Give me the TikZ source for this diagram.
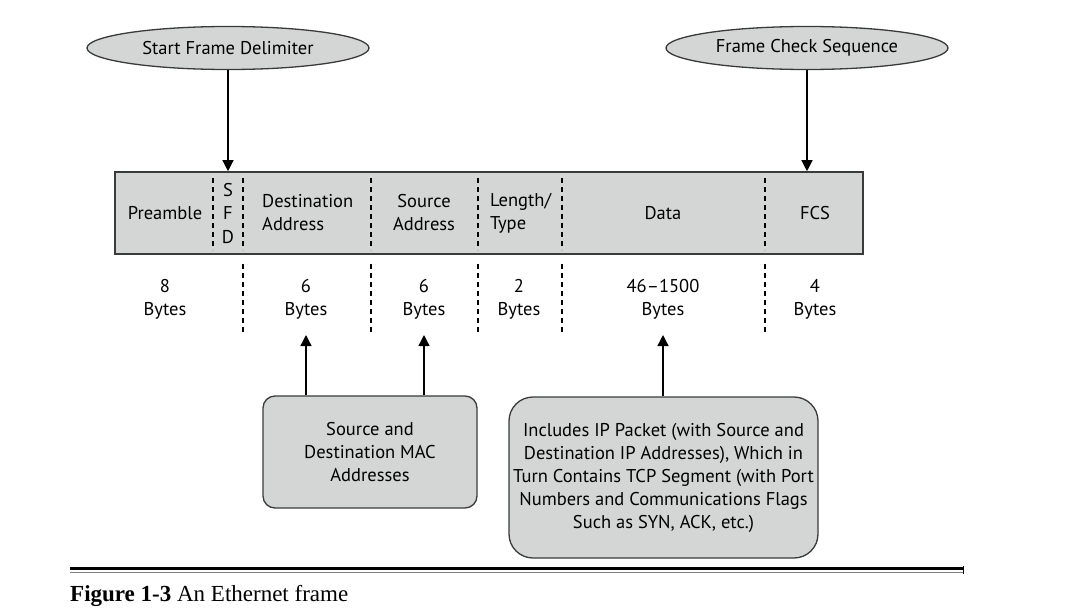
\documentclass[tikz,border=0pt]{standalone}
\usepackage{fontspec}
\setmainfont{PT Sans}
\newfontfamily\capfont{Liberation Serif}
\usetikzlibrary{shapes.geometric,arrows.meta}
\definecolor{boxgray}{HTML}{D4D6D6}
\definecolor{edge}{HTML}{3A3A3A}
\tikzset{
  lbl/.style={font=\fontsize{18.5}{23}\selectfont, align=center, inner sep=0pt},
  lbll/.style={font=\fontsize{18.5}{23}\selectfont, align=left, inner sep=0pt, anchor=west},
  oval/.style={ellipse, draw=edge, fill=boxgray, line width=1.3pt, minimum width=282pt, minimum height=43pt, inner sep=0pt, font=\fontsize{18.5}{23}\selectfont},
  divider/.style={dashed, dash pattern=on 5pt off 4pt, line width=1.3pt, black},
  arr/.style={line width=1.3pt, -{Triangle[width=11pt,length=11pt]}},
  rbox/.style={draw=edge, fill=boxgray, line width=1.3pt, align=center, font=\fontsize{18.5}{23}\selectfont}
}
\begin{document}
\begin{tikzpicture}[x=1pt,y=-1pt]
\useasboundingbox (0,0) rectangle (1088,616);
% ellipses
\node[oval] (sfdo) at (228,48) {Start Frame Delimiter};
\node[oval] (fcso) at (807,48) {Frame Check Sequence};
% main bar
\node[draw=edge, fill=boxgray, line width=1.6pt, minimum width=748pt, minimum height=82pt, inner sep=0pt] (bar) at (489,213) {};
% dividers inside bar
\foreach \x in {213,243,371,478,562,765}{
  \draw[divider] (\x,178) -- (\x,250);
}
% dividers below bar
\foreach \x in {243,371,478,562,765}{
  \draw[divider] (\x,264) -- (\x,335);
}
% field labels
\node[lbl] (pre) at (165,213) {Preamble};
\node[lbl] (s) at (228,190) {S};
\node[lbl] (f) at (228,213) {F};
\node[lbl] (d) at (228,237) {D};
\node[lbll] (dst) at (262,213) {Destination\\Address};
\node[lbl] (src) at (424,213) {Source\\Address};
\node[lbll] (len) at (490,213) {Length/\\Type};
\node[lbl] (data) at (663,213) {Data};
\node[lbl] (fcs) at (815,213) {FCS};
% byte counts
\node[lbl] (b1) at (165,299) {8\\Bytes};
\node[lbl] (b2) at (306,299) {6\\Bytes};
\node[lbl] (b3) at (424,299) {6\\Bytes};
\node[lbl] (b4) at (519,299) {2\\Bytes};
\node[lbl] (b5) at (663,299) {46--1500\\Bytes};
\node[lbl] (b6) at (815,299) {4\\Bytes};
% bottom boxes
\node[rbox, rounded corners=12pt, minimum width=214pt, minimum height=112pt] (mac) at (370,452) {Source and\\Destination MAC\\Addresses};
\node[rbox, rounded corners=24pt, minimum width=309pt, minimum height=161pt] (ip) at (663.5,477.5) {Includes IP Packet (with Source and\\Destination IP Addresses), Which in\\Turn Contains TCP Segment (with Port\\Numbers and Communications Flags\\Such as SYN, ACK, etc.)};
% arrow end points
\coordinate (t2) at (306,335);
\coordinate (t3) at (424,335);
\coordinate (t5) at (663,335);
% arrows
\draw[arr] (sfdo.south) -- (sfdo.south |- bar.north);
\draw[arr] (fcso.south) -- (fcso.south |- bar.north);
\draw[arr] (mac.north -| t2) -- (t2);
\draw[arr] (mac.north -| t3) -- (t3);
\draw[arr] (ip.north -| t5) -- (t5);
% bottom rule
\draw[line width=3pt, black] (70,568) -- (963,568);
\draw[line width=1.5pt, gray] (70,572.5) -- (963,572.5);
\draw[line width=1pt, black] (963,566) -- (963,574);
% caption
\node[anchor=base west, inner sep=0pt, font=\capfont\fontsize{23}{26}\selectfont] (cap) at (70,601) {\textbf{Figure 1-3} An Ethernet frame};
\end{tikzpicture}
\end{document}
